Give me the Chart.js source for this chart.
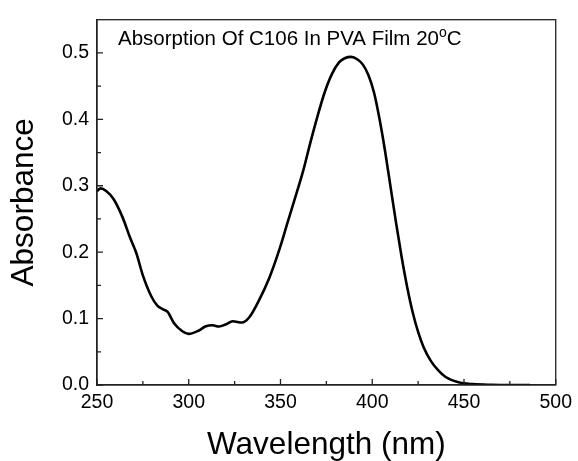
<!DOCTYPE html>
<html>
<head>
<meta charset="utf-8">
<script src="https://cdn.jsdelivr.net/npm/chart.js@4/dist/chart.umd.min.js"></script>
<style>
    html, body { margin: 0; padding: 0; background: #fff; }
    #wrap { width: 578px; height: 461px; }
</style>
</head>
<body>
<div id="wrap"><canvas id="absChart" width="578" height="461"></canvas></div>
<script>
// wavelength (nm) and absorbance
const wavelength = [250, 252, 255, 259, 264, 268, 271.5, 275, 279.5, 283, 286, 288.5, 292, 296.5, 300, 305.5, 309, 313, 316.5, 320, 324, 329, 333, 338, 344, 349.5, 354, 358, 362.5, 366, 370, 374, 378, 382, 385, 388.5, 392, 395, 398, 401, 404, 407, 410, 413, 416, 419, 422, 425, 428, 432, 436, 440, 447, 455, 465, 475, 486];
const absorbance = [0.292, 0.296, 0.292, 0.280, 0.252, 0.222, 0.198, 0.165, 0.134, 0.119, 0.114, 0.110, 0.093, 0.081, 0.077, 0.082, 0.088, 0.090, 0.088, 0.091, 0.096, 0.094, 0.102, 0.126, 0.162, 0.205, 0.246, 0.282, 0.324, 0.362, 0.403, 0.440, 0.468, 0.486, 0.492, 0.494, 0.490, 0.482, 0.466, 0.440, 0.400, 0.352, 0.298, 0.244, 0.193, 0.148, 0.110, 0.080, 0.057, 0.036, 0.022, 0.012, 0.004, 0.0013, 0.0003, 0, 0];

const xTicks = [250, 300, 350, 400, 450, 500];
const yTicks = [0.0, 0.1, 0.2, 0.3, 0.4, 0.5];
const xMinor = [275, 325, 375, 425, 475];
const yMinor = [0.05, 0.15, 0.25, 0.35, 0.45];

const fontFamily = '"Liberation Sans", Arial, sans-serif';

// inward tick marks + closed frame + title text inside the plot
const framePlugin = {
    id: 'frame',
    afterDraw(chart) {
        const { ctx, chartArea: a, scales: { x, y } } = chart;
        ctx.save();
        ctx.strokeStyle = '#222';
        ctx.lineWidth = 1.3;
        ctx.strokeRect(a.left, a.top, a.right - a.left, a.bottom - a.top);

        ctx.beginPath();
        xTicks.forEach(v => { const px = x.getPixelForValue(v); ctx.moveTo(px, a.bottom); ctx.lineTo(px, a.bottom - 6); });
        xMinor.forEach(v => { const px = x.getPixelForValue(v); ctx.moveTo(px, a.bottom); ctx.lineTo(px, a.bottom - 4); });
        yTicks.forEach(v => { const py = y.getPixelForValue(v); ctx.moveTo(a.left, py); ctx.lineTo(a.left + 6, py); });
        yMinor.forEach(v => { const py = y.getPixelForValue(v); ctx.moveTo(a.left, py); ctx.lineTo(a.left + 4, py); });
        ctx.stroke();

        // title with superscript o
        ctx.fillStyle = '#000';
        ctx.textBaseline = 'alphabetic';
        ctx.font = `20.5px ${fontFamily}`;
        let tx = a.left + 21;
        const ty = a.top + 25;
        const main = 'Absorption Of C106 In PVA Film 20';
        ctx.fillText(main, tx, ty);
        tx += ctx.measureText(main).width;
        ctx.font = `14px ${fontFamily}`;
        ctx.fillText('o', tx, ty - 8);
        tx += ctx.measureText('o').width;
        ctx.font = `20.5px ${fontFamily}`;
        ctx.fillText('C', tx, ty);
        ctx.restore();
    }
};

const ctx = document.getElementById('absChart').getContext('2d');
new Chart(ctx, {
    type: 'line',
    data: {
        datasets: [{
            data: wavelength.map((w, i) => ({ x: w, y: absorbance[i] })),
            borderColor: '#000',
            borderWidth: 2.6,
            pointRadius: 0,
            fill: false,
            cubicInterpolationMode: 'monotone'
        }]
    },
    options: {
        responsive: false,
        animation: false,
        devicePixelRatio: 1,
        layout: { padding: { top: 14, right: 19, left: 0, bottom: 0 } },
        plugins: {
            legend: { display: false },
            tooltip: { enabled: false }
        },
        scales: {
            x: {
                type: 'linear',
                min: 250,
                max: 500,
                afterBuildTicks: s => { s.ticks = xTicks.map(v => ({ value: v })); },
                afterFit: s => { s.height = 76; },
                grid: { display: false, drawTicks: false },
                border: { display: true, color: '#222', width: 1.3 },
                ticks: {
                    padding: 6,
                    color: '#000',
                    font: { family: fontFamily, size: 19.5 },
                    maxRotation: 0,
                    callback: v => String(v)
                },
                title: {
                    display: true,
                    text: 'Wavelength (nm)',
                    color: '#000',
                    font: { family: fontFamily, size: 31.5 },
                    padding: { top: 0, bottom: -3 }
                }
            },
            y: {
                min: 0,
                max: 0.55,
                afterBuildTicks: s => { s.ticks = yTicks.map(v => ({ value: v })); },
                afterFit: s => { s.width = 97; },
                grid: { display: false, drawTicks: false },
                border: { display: true, color: '#222', width: 1.3 },
                ticks: {
                    padding: 8,
                    color: '#000',
                    font: { family: fontFamily, size: 19.5 },
                    callback: v => Number(v).toFixed(1)
                },
                title: {
                    display: true,
                    text: 'Absorbance',
                    color: '#000',
                    font: { family: fontFamily, size: 31.5 },
                    padding: { top: 5, bottom: 0 }
                }
            }
        }
    },
    plugins: [framePlugin]
});
</script>
</body>
</html>
